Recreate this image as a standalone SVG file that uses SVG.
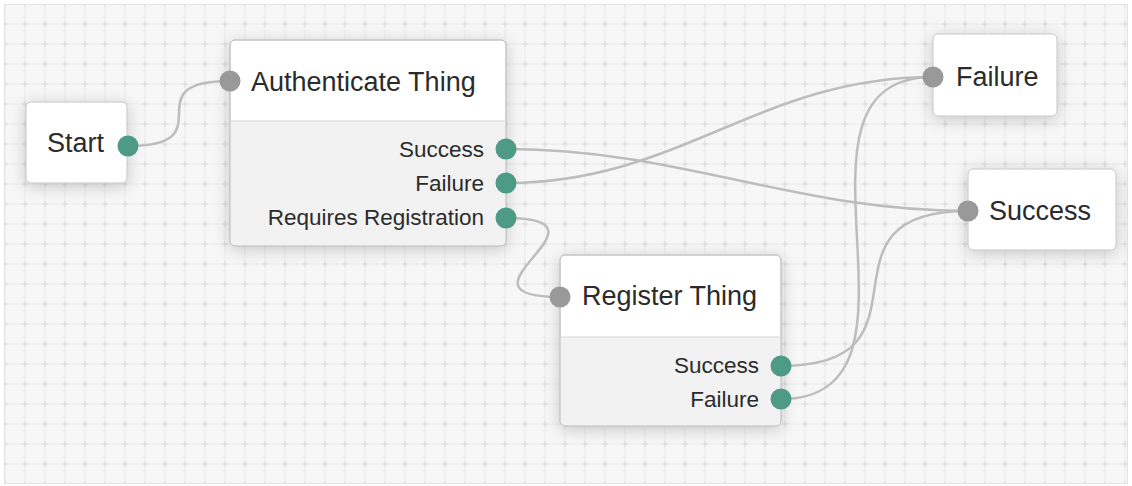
<svg xmlns="http://www.w3.org/2000/svg" width="1132" height="486" viewBox="0 0 1132 486">
<defs>
<pattern id="grid" patternUnits="userSpaceOnUse" x="15" y="14" width="20" height="20">
<rect width="20" height="20" fill="#f7f7f7"/>
<path d="M10 0V20M0 10H20" stroke="#ececec" stroke-width="1"/>
<path d="M10 7V13M7 10H13" stroke="#dcdcdc" stroke-width="1"/>
</pattern>
<filter id="shadow" x="-40%" y="-40%" width="180%" height="180%">
<feDropShadow dx="0" dy="3" stdDeviation="8" flood-color="#000" flood-opacity="0.2"/>
</filter>
</defs>
<style>
.node{fill:#fff;stroke:#c4c4c4;stroke-width:1}
.body{fill:#f2f2f2}
.div{stroke:#d8d8d8;stroke-width:1}
.title{font-family:"Liberation Sans",Arial,sans-serif;font-size:27px;fill:#2b2b2b}
.label{font-family:"Liberation Sans",Arial,sans-serif;font-size:22.5px;fill:#2b2b2b;text-anchor:end}
.out{fill:#4d9a87}
.in{fill:#999}
.wire{fill:none;stroke:#bdbdbd;stroke-width:2.5}
</style>
<rect x="0" y="0" width="1132" height="486" fill="#fff"/>
<rect x="4.5" y="4.5" width="1123" height="479" fill="url(#grid)" stroke="#e2e2e2" stroke-width="1"/>

<g id="connectors">
<path class="wire" d="M128 146C228 146 130 81 230 81"/>
<path class="wire" d="M506 149C680 149 794 211 968 211"/>
<path class="wire" d="M506 183C680 183 759 77 933 77"/>
<path class="wire" d="M506 218C626 218 440 297 560 297"/>
<path class="wire" d="M781 366C945 366 804 211 968 211"/>
<path class="wire" d="M781 399C950 399 764 77 933 77"/>
</g>

<g id="start">
<rect class="node" x="26" y="102" width="101" height="81" rx="5" filter="url(#shadow)"/>
<text class="title" x="47" y="152">Start</text>
<circle class="out" cx="128" cy="146" r="10.5"/>
</g>

<g id="authenticate">
<rect class="node" x="230" y="40" width="276" height="206" rx="5" filter="url(#shadow)"/>
<path class="body" d="M230.5 121H505.5V241A4.5 4.5 0 0 1 501 245.5H235A4.5 4.5 0 0 1 230.5 241Z"/>
<line class="div" x1="230.5" y1="121" x2="505.5" y2="121"/>
<rect x="230" y="40" width="276" height="206" rx="5" fill="none" stroke="#c4c4c4"/>
<text class="title" x="251" y="91">Authenticate Thing</text>
<circle class="in" cx="230" cy="81" r="10.5"/>
<text class="label" x="484" y="157">Success</text>
<text class="label" x="484" y="191">Failure</text>
<text class="label" x="484" y="225">Requires Registration</text>
<circle class="out" cx="506" cy="149" r="10.5"/>
<circle class="out" cx="506" cy="183" r="10.5"/>
<circle class="out" cx="506" cy="218" r="10.5"/>
</g>

<g id="register">
<rect class="node" x="560" y="255" width="221" height="171" rx="5" filter="url(#shadow)"/>
<path class="body" d="M560.5 337H780.5V421A4.5 4.5 0 0 1 776 425.5H565A4.5 4.5 0 0 1 560.5 421Z"/>
<line class="div" x1="560.5" y1="337" x2="780.5" y2="337"/>
<rect x="560" y="255" width="221" height="171" rx="5" fill="none" stroke="#c4c4c4"/>
<text class="title" x="582" y="305">Register Thing</text>
<circle class="in" cx="560" cy="297" r="10.5"/>
<text class="label" x="759" y="373">Success</text>
<text class="label" x="759" y="407">Failure</text>
<circle class="out" cx="781" cy="366" r="10.5"/>
<circle class="out" cx="781" cy="399" r="10.5"/>
</g>

<g id="failure">
<rect class="node" x="933" y="34" width="124" height="82" rx="5" filter="url(#shadow)"/>
<text class="title" x="956" y="86">Failure</text>
<circle class="in" cx="933" cy="77" r="10.5"/>
</g>

<g id="success">
<rect class="node" x="968" y="169" width="148" height="81" rx="5" filter="url(#shadow)"/>
<text class="title" x="989" y="220">Success</text>
<circle class="in" cx="968" cy="211" r="10.5"/>
</g>
</svg>
